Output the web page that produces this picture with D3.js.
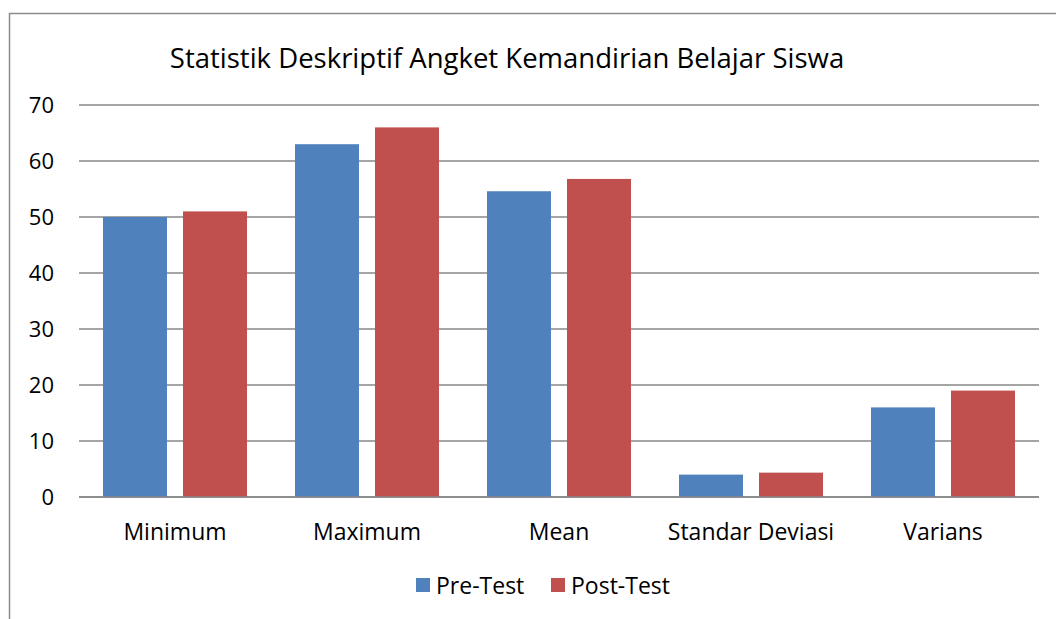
<!DOCTYPE html>
<html lang="id">
<head>
<meta charset="UTF-8">
<title>Statistik Deskriptif</title>
<script src="https://cdn.jsdelivr.net/npm/d3@7"></script>
<style>
  body { margin: 0; background: #fff; }
  text { font-family: "Open Sans", "Noto Sans", sans-serif; fill: #000; }
</style>
</head>
<body>
<script>
// data
var categories = ["Minimum", "Maximum", "Mean", "Standar Deviasi", "Varians"];
var series = ["Pre-Test", "Post-Test"];
var preTest = [50, 63, 54.6, 4, 16];
var postTest = [51, 66, 56.8, 4.35, 19];
var yTicks = [0, 10, 20, 30, 40, 50, 60, 70];
var colors = ["#4F81BD", "#C0504D"];

var w = 1056, h = 619;
var plotLeft = 79, plotRight = 1039, plotTop = 105, plotBottom = 497;

var svg = d3.select("body").append("svg")
  .attr("width", w)
  .attr("height", h);

// outer frame
svg.append("rect")
  .attr("x", 9.5).attr("y", 13.5)
  .attr("width", 1060).attr("height", 620)
  .attr("fill", "none")
  .attr("stroke", "#8c8c8c")
  .attr("stroke-width", 1.5);

var x0 = d3.scaleBand()
  .domain(categories)
  .range([plotLeft, plotRight])
  .paddingInner(0.25)
  .paddingOuter(0.125);

var x1 = d3.scaleBand()
  .domain(series)
  .range([0, x0.bandwidth()])
  .paddingInner(0.2);

var y = d3.scaleLinear()
  .domain([0, 70])
  .range([plotBottom, plotTop]);

// gridlines
svg.append("g")
  .selectAll("line")
  .data(yTicks)
  .enter()
  .append("line")
  .attr("x1", plotLeft).attr("x2", plotRight)
  .attr("y1", function(d) { return y(d); })
  .attr("y2", function(d) { return y(d); })
  .attr("stroke", "#878787")
  .attr("stroke-width", 1.5);

// y labels
svg.append("g")
  .selectAll("text")
  .data(yTicks)
  .enter()
  .append("text")
  .attr("x", 54)
  .attr("y", function(d) { return y(d); })
  .attr("dy", "0.35em")
  .attr("text-anchor", "end")
  .attr("font-size", "22px")
  .text(function(d) { return d; });

var rows = categories.map(function(c, i) {
  return { cat: c, vals: [preTest[i], postTest[i]] };
});

var groups = svg.append("g")
  .selectAll("g")
  .data(rows)
  .enter()
  .append("g")
  .attr("transform", function(d) { return "translate(" + x0(d.cat) + ",0)"; });

groups.selectAll("rect")
  .data(function(d) { return d.vals.map(function(v, j) { return { s: series[j], v: v, j: j }; }); })
  .enter()
  .append("rect")
  .attr("x", function(d) { return x1(d.s); })
  .attr("y", function(d) { return y(d.v); })
  .attr("width", x1.bandwidth())
  .attr("height", function(d) { return y(0) - y(d.v); })
  .attr("fill", function(d) { return colors[d.j]; });

// redraw baseline over bars
svg.append("line")
  .attr("x1", plotLeft).attr("x2", plotRight)
  .attr("y1", y(0)).attr("y2", y(0))
  .attr("stroke", "#878787")
  .attr("stroke-width", 1.5);

// category labels
svg.append("g")
  .selectAll("text")
  .data(categories)
  .enter()
  .append("text")
  .attr("x", function(d) { return x0(d) + x0.bandwidth() / 2; })
  .attr("y", 532)
  .attr("dy", "0.35em")
  .attr("text-anchor", "middle")
  .attr("font-size", "23px")
  .text(function(d) { return d; });

// title
svg.append("text")
  .attr("x", 507)
  .attr("y", 58)
  .attr("dy", "0.35em")
  .attr("text-anchor", "middle")
  .attr("font-size", "27.5px")
  .text("Statistik Deskriptif Angket Kemandirian Belajar Siswa");

// legend
var legendX = [416, 551];
var legend = svg.append("g")
  .selectAll("g")
  .data(series)
  .enter()
  .append("g")
  .attr("transform", function(d, i) { return "translate(" + legendX[i] + ",578)"; });

legend.append("rect")
  .attr("width", 14).attr("height", 14)
  .attr("fill", function(d, i) { return colors[i]; });

legend.append("text")
  .attr("x", 20)
  .attr("y", 8)
  .attr("dy", "0.35em")
  .attr("font-size", "23px")
  .text(function(d) { return d; });
</script>
</body>
</html>
